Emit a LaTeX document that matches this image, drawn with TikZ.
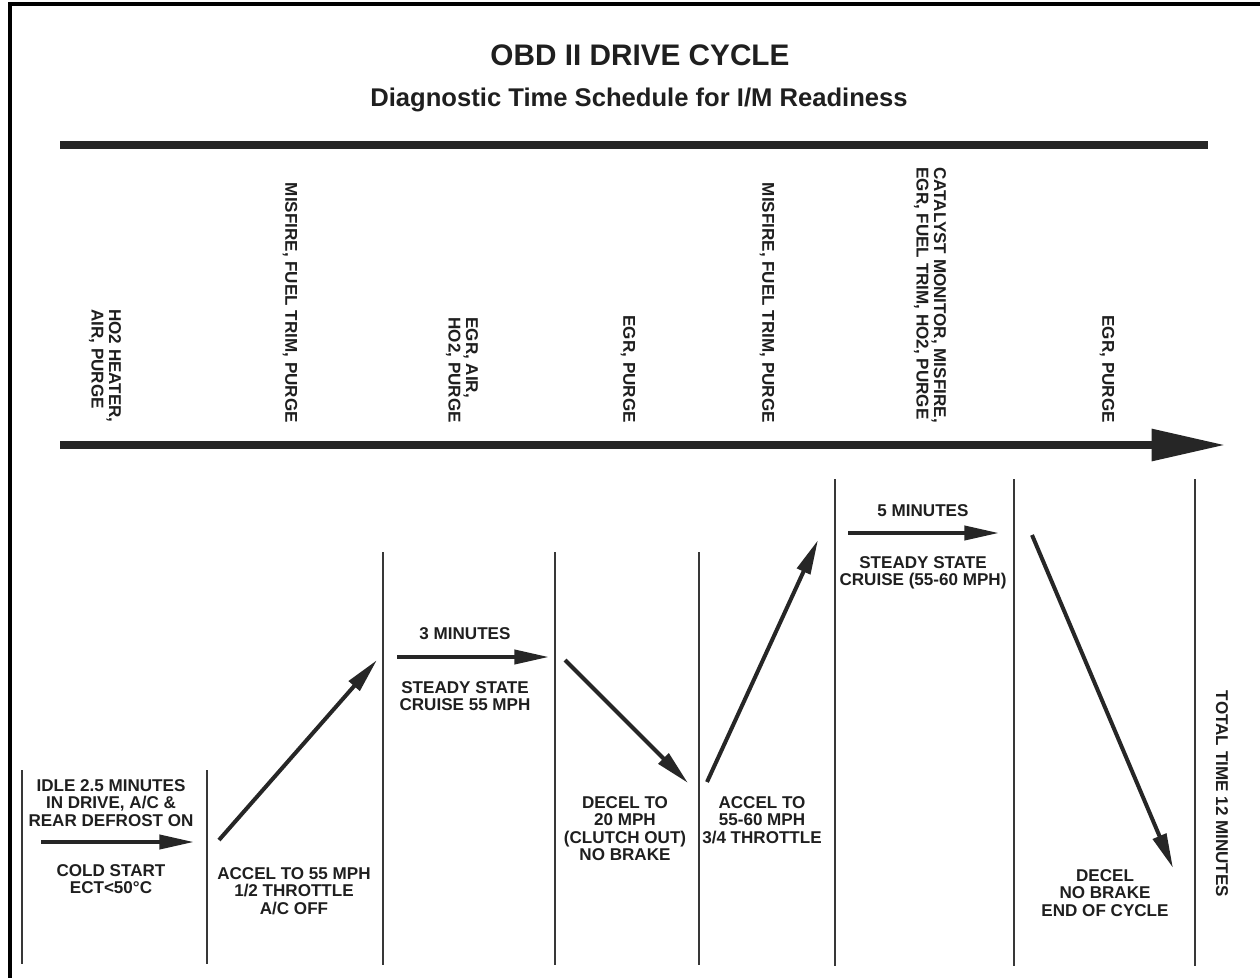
\documentclass[tikz,border=0pt]{standalone}
\usepackage{fontspec}
\setmainfont{Liberation Sans}
\usetikzlibrary{arrows.meta}
\begin{document}
\begin{tikzpicture}[x=0.75pt,y=-0.75pt,
  lbl/.style={font=\fontsize{12.8}{13.1}\selectfont\bfseries, text=black!88, align=center, inner sep=0pt},
  mon/.style={lbl, rotate=-90, anchor=east, align=left},
  divider/.style={draw=black!78, line width=1.6pt},
  leg/.style={draw=black!85, line width=3pt, -{Triangle[length=26pt,width=10.5pt]}},
  bar/.style={draw=black!85, line width=6pt},
]
\useasboundingbox (0,0) rectangle (1260,978);
\fill[white] (0,0) rectangle (1260,978);

% frame (top and left edges only)
\draw[line width=2.4pt] (10,978) -- (10,4) -- (1260,4);

% headings
\node[font=\fontsize{22.3}{24}\selectfont\bfseries, text=black!88, inner sep=0pt, anchor=base] (title) at (640,65) {OBD II DRIVE CYCLE};
\node[font=\fontsize{19.2}{21}\selectfont\bfseries, text=black!88, inner sep=0pt, anchor=base] (subtitle) at (639,106) {Diagnostic Time Schedule for I/M Readiness};

% upper bar and time axis
\coordinate (barL) at (60,145);
\coordinate (barR) at (1208,145);
\draw[bar] (barL) -- (barR);
\coordinate (axisL) at (60,445);
\coordinate (axisR) at (1225,445);
\draw[draw=black!85, line width=5.3pt, -{Triangle[length=55pt,width=23pt]}] (axisL) -- (axisR);

% monitors running in each phase
\node[mon] (m1) at (105,423) {HO2 HEATER,\\AIR, PURGE};
\node[mon] (m2) at (290,423) {MISFIRE, FUEL TRIM, PURGE};
\node[mon] (m3) at (462,423) {EGR, AIR,\\HO2, PURGE};
\node[mon] (m4) at (628,423) {EGR, PURGE};
\node[mon] (m5) at (767,423) {MISFIRE, FUEL TRIM, PURGE};
\node[mon] (m6) at (930,423) {CATALYST MONITOR, MISFIRE,\\EGR, FUEL TRIM, HO2, PURGE};
\node[mon] (m7) at (1107,423) {EGR, PURGE};

% phase dividers
\draw[divider] (22,770) -- (22,964);
\draw[divider] (207,770) -- (207,964);
\draw[divider] (383,552) -- (383,965);
\draw[divider] (555,552) -- (555,965);
\draw[divider] (699,552) -- (699,965);
\draw[divider] (835,479) -- (835,966);
\draw[divider] (1014,479) -- (1014,966);
\draw[divider] (1195,479) -- (1195,966);

% speed profile segments
\coordinate (p1s) at (41,842);  \coordinate (p1e) at (194,842);
\coordinate (p2s) at (219,840); \coordinate (p2e) at (377,660);
\coordinate (p3s) at (397,657); \coordinate (p3e) at (549,657);
\coordinate (p4s) at (565,660); \coordinate (p4e) at (688,783);
\coordinate (p5s) at (707,782); \coordinate (p5e) at (818,540);
\coordinate (p6s) at (848,533); \coordinate (p6e) at (999,533);
\coordinate (p7s) at (1032,535); \coordinate (p7e) at (1173,868);
\draw[leg] (p1s) -- (p1e);
\draw[leg] (p2s) -- (p2e);
\draw[leg] (p3s) -- (p3e);
\draw[leg] (p4s) -- (p4e);
\draw[leg] (p5s) -- (p5e);
\draw[leg] (p6s) -- (p6e);
\draw[leg] (p7s) -- (p7e);

% phase descriptions
\node[lbl, anchor=north] (idle) at (111,779) {IDLE 2.5 MINUTES\\IN DRIVE, A/C \&\\REAR DEFROST ON};
\node[lbl, anchor=north] (cold) at (111,864) {COLD START\\ECT<50°C};
\node[lbl, anchor=north] (acc1) at (294,867) {ACCEL TO 55 MPH\\1/2 THROTTLE\\A/C OFF};
\node[lbl, anchor=north] (min3) at (465,627) {3 MINUTES};
\node[lbl, anchor=north] (cr1) at (465,681) {STEADY STATE\\CRUISE 55 MPH};
\node[lbl, anchor=north] (dec1) at (625,796) {DECEL TO\\20 MPH\\(CLUTCH OUT)\\NO BRAKE};
\node[lbl, anchor=north] (acc2) at (762,796) {ACCEL TO\\55-60 MPH\\3/4 THROTTLE};
\node[lbl, anchor=north] (min5) at (923,504) {5 MINUTES};
\node[lbl, anchor=north] (cr2) at (923,556) {STEADY STATE\\CRUISE (55-60 MPH)};
\node[lbl, anchor=north] (dec2) at (1105,869) {DECEL\\NO BRAKE\\END OF CYCLE};
\node[lbl, rotate=-90] (total) at (1222,794) {TOTAL TIME 12 MINUTES};
\end{tikzpicture}
\end{document}
